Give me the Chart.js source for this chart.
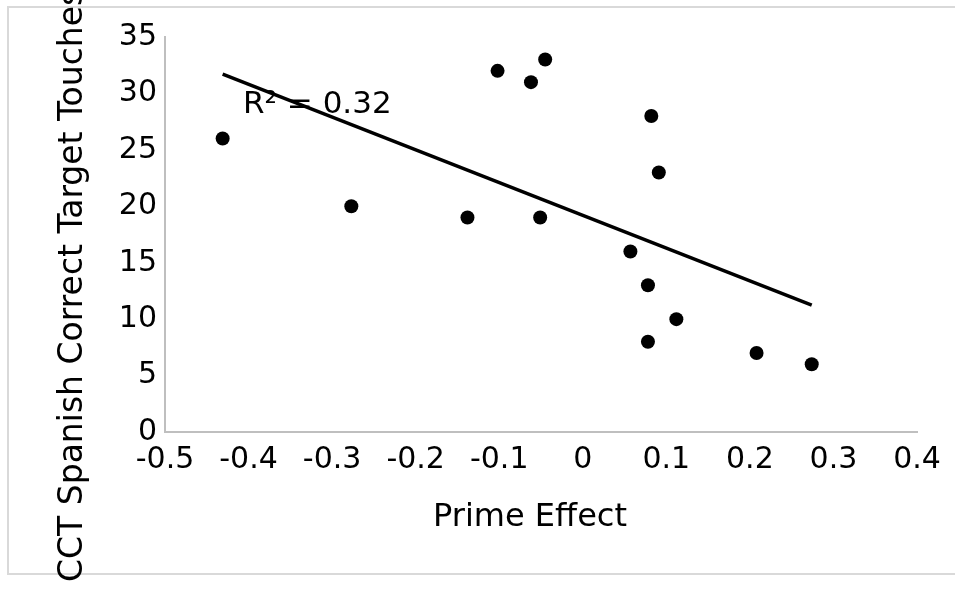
<!DOCTYPE html>
<html>
<head>
<meta charset="utf-8">
<script src="https://cdn.jsdelivr.net/npm/chart.js@4/dist/chart.umd.min.js"></script>
<style>
  html, body { margin: 0; padding: 0; background: #ffffff; }
  #wrap { width: 955px; height: 590px; position: relative; }
</style>
</head>
<body>
<div id="wrap"><canvas id="c" width="955" height="590"></canvas></div>
<script>
// Data
const primeEffect   = [-0.431, -0.277, -0.138, -0.102, -0.062, -0.045, -0.051, 0.057, 0.078, 0.078, 0.082, 0.091, 0.112, 0.208, 0.274];
const targetTouches = [26, 20, 19, 32, 31, 33, 19, 16, 13, 8, 28, 23, 10, 7, 6];
// Linear trendline endpoints as drawn in the reference
const trendX = [-0.431, 0.274];
const trendY = [31.7, 11.25];
const rSquaredLabel = "R\u00B2 = 0.32";
const xTitle = "Prime Effect";
const yTitle = "CCT Spanish Correct Target Touches";

const FONT = "'DejaVu Sans', sans-serif";

const decor = {
  id: 'decor',
  beforeDraw(chart) {
    const ctx = chart.ctx;
    ctx.save();
    ctx.strokeStyle = '#d9d9d9';
    ctx.lineWidth = 2;
    ctx.strokeRect(8, 7, 960, 567);
    ctx.restore();
  },
  afterDraw(chart) {
    const ctx = chart.ctx;
    ctx.save();
    ctx.fillStyle = '#000000';
    // R squared label
    ctx.font = "31px " + FONT;
    ctx.textAlign = 'left';
    ctx.textBaseline = 'alphabetic';
    ctx.fillText(rSquaredLabel, 243, 113);
    // X title
    ctx.font = "32px " + FONT;
    ctx.textAlign = 'center';
    ctx.fillText(xTitle, 530, 526);
    // Y title
    ctx.translate(82, 582);
    ctx.rotate(-Math.PI / 2);
    ctx.textAlign = 'left';
    ctx.font = "33px " + FONT;
    ctx.fillText(yTitle, 0, 0);
    ctx.restore();
  }
};

const ptData = primeEffect.map((x, i) => ({ x: x, y: targetTouches[i] }));
const trendData = trendX.map((x, i) => ({ x: x, y: trendY[i] }));

new Chart(document.getElementById('c'), {
  type: 'scatter',
  data: {
    datasets: [
      {
        label: 'Trend',
        type: 'line',
        data: trendData,
        borderColor: '#000000',
        borderWidth: 3.5,
        pointRadius: 0,
        fill: false,
        tension: 0,
        order: 2
      },
      {
        label: 'Points',
        data: ptData,
        backgroundColor: '#000000',
        borderColor: '#000000',
        pointRadius: 7,
        pointBorderWidth: 0,
        order: 1
      }
    ]
  },
  options: {
    responsive: false,
    animation: false,
    devicePixelRatio: 1,
    layout: { padding: { top: 37, right: 38, left: 0, bottom: 0 } },
    plugins: {
      legend: { display: false },
      tooltip: { enabled: false },
      title: { display: false }
    },
    scales: {
      x: {
        type: 'linear',
        min: -0.5, max: 0.4,
        afterFit(s) { s.height = 158; },
        grid: { display: false, drawTicks: false },
        border: { display: true, color: '#bfbfbf', width: 2 },
        ticks: {
          stepSize: 0.1,
          padding: 10,
          color: '#000000',
          font: { family: FONT, size: 30 },
          callback: v => String(Number(Number(v).toFixed(1)))
        }
      },
      y: {
        type: 'linear',
        min: 0, max: 35,
        afterFit(s) { s.width = 165; },
        grid: { display: false, drawTicks: false },
        border: { display: true, color: '#bfbfbf', width: 2 },
        ticks: {
          stepSize: 5,
          padding: 8,
          color: '#000000',
          font: { family: FONT, size: 30 }
        }
      }
    }
  },
  plugins: [decor]
});
</script>
</body>
</html>
